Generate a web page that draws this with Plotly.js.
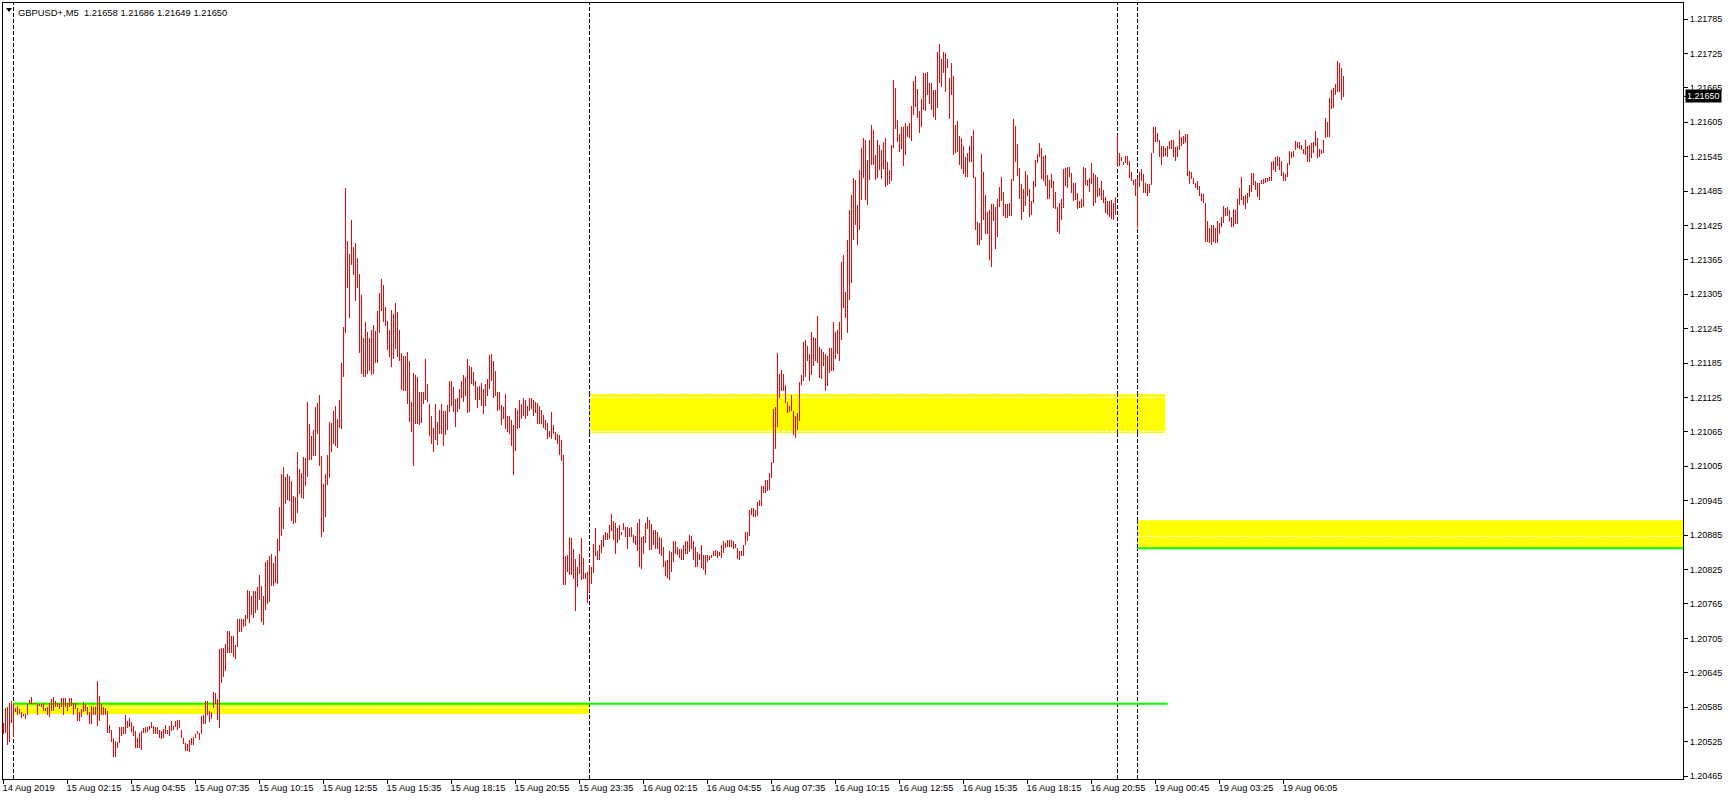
<!DOCTYPE html>
<html>
<head>
<meta charset="utf-8">
<script src="https://cdn.plot.ly/plotly-3.0.1.min.js"></script>
<style>html,body{margin:0;padding:0;background:#fff;}#chart{width:1729px;height:800px;}</style>
</head>
<body>
<div id="chart"></div>
<script>
// ---- data (M5 bars, high / low) ----
const symbol = 'GBPUSD+';
const timeframe = 'M5';
const lastOHLC = [1.21658, 1.21686, 1.21649, 1.21650];

const high = [
1.20557,1.20584,1.20586,1.20593,1.20595,1.20590,1.20583,1.20587,1.20581,1.20576,
1.20574,1.20574,1.20590,1.20598,1.20602,1.20593,1.20593,1.20590,1.20591,1.20590,
1.20592,1.20583,1.20586,1.20593,1.20600,1.20602,1.20596,1.20593,1.20590,1.20601,
1.20601,1.20601,1.20593,1.20601,1.20601,1.20593,1.20593,1.20583,1.20576,1.20581,
1.20594,1.20591,1.20586,1.20576,1.20587,1.20586,1.20586,1.20630,1.20605,1.20590,
1.20586,1.20583,1.20579,1.20554,1.20546,1.20531,1.20526,1.20524,1.20550,1.20550,
1.20550,1.20571,1.20561,1.20567,1.20560,1.20553,1.20543,1.20531,1.20540,1.20543,
1.20548,1.20550,1.20550,1.20553,1.20560,1.20553,1.20550,1.20550,1.20545,1.20543,
1.20547,1.20554,1.20546,1.20553,1.20561,1.20553,1.20561,1.20563,1.20563,1.20545,
1.20531,1.20523,1.20521,1.20528,1.20531,1.20533,1.20539,1.20543,1.20540,1.20570,
1.20572,1.20596,1.20596,1.20579,1.20577,1.20612,1.20610,1.20600,1.20686,1.20689,
1.20689,1.20696,1.20718,1.20718,1.20709,1.20709,1.20693,1.20738,1.20739,1.20738,
1.20738,1.20745,1.20789,1.20787,1.20779,1.20787,1.20787,1.20794,1.20815,1.20796,
1.20779,1.20839,1.20841,1.20848,1.20853,1.20837,1.20848,1.20879,1.20934,1.20991,
1.21004,1.20987,1.20991,1.20988,1.20979,1.20953,1.20951,1.21030,1.21001,1.20994,
1.21021,1.21020,1.21118,1.21078,1.21058,1.21068,1.21109,1.21116,1.21129,1.21023,
1.20974,1.20991,1.21025,1.21082,1.21080,1.21102,1.21111,1.21087,1.21121,1.21185,
1.21248,1.21491,1.21398,1.21376,1.21435,1.21387,1.21395,1.21369,1.21341,1.21303,
1.21228,1.21256,1.21240,1.21228,1.21242,1.21252,1.21241,1.21276,1.21307,1.21331,
1.21321,1.21283,1.21259,1.21242,1.21278,1.21271,1.21290,1.21274,1.21243,1.21202,
1.21197,1.21197,1.21204,1.21188,1.21118,1.21168,1.21164,1.21160,1.21135,1.21135,
1.21135,1.21193,1.21149,1.21113,1.21093,1.21071,1.21113,1.21083,1.21104,1.21113,
1.21102,1.21102,1.21112,1.21154,1.21153,1.21143,1.21122,1.21124,1.21139,1.21154,
1.21164,1.21161,1.21193,1.21180,1.21178,1.21170,1.21154,1.21143,1.21145,1.21150,
1.21139,1.21148,1.21157,1.21199,1.21201,1.21188,1.21172,1.21135,1.21134,1.21112,
1.21108,1.21131,1.21093,1.21092,1.21086,1.21077,1.21106,1.21103,1.21121,1.21114,
1.21124,1.21121,1.21110,1.21124,1.21125,1.21121,1.21118,1.21115,1.21110,1.21103,
1.21095,1.21086,1.21080,1.21067,1.21099,1.21077,1.21064,1.21061,1.21060,1.21051,
1.21025,1.20848,1.20850,1.20882,1.20880,1.20861,1.20843,1.20829,1.20853,1.20880,
1.20846,1.20819,1.20821,1.20833,1.20830,1.20870,1.20898,1.20858,1.20868,1.20877,
1.20885,1.20891,1.20888,1.20903,1.20922,1.20909,1.20906,1.20897,1.20903,1.20891,
1.20907,1.20899,1.20899,1.20897,1.20900,1.20886,1.20884,1.20907,1.20913,1.20882,
1.20884,1.20907,1.20916,1.20912,1.20904,1.20894,1.20894,1.20890,1.20881,1.20880,
1.20864,1.20840,1.20842,1.20857,1.20855,1.20874,1.20875,1.20864,1.20860,1.20860,
1.20868,1.20875,1.20875,1.20885,1.20884,1.20875,1.20865,1.20855,1.20853,1.20868,
1.20850,1.20850,1.20850,1.20849,1.20850,1.20857,1.20859,1.20858,1.20856,1.20868,
1.20874,1.20871,1.20877,1.20877,1.20877,1.20875,1.20870,1.20863,1.20858,1.20857,
1.20868,1.20890,1.20890,1.20929,1.20933,1.20932,1.20929,1.20942,1.20946,1.20971,
1.20971,1.20981,1.20982,1.20994,1.21012,1.21105,1.21108,1.21203,1.21166,1.21173,
1.21166,1.21147,1.21118,1.21110,1.21129,1.21102,1.21093,1.21098,1.21152,1.21164,
1.21221,1.21225,1.21214,1.21201,1.21240,1.21230,1.21228,1.21267,1.21213,1.21210,
1.21205,1.21201,1.21198,1.21211,1.21211,1.21256,1.21240,1.21243,1.21257,1.21361,
1.21374,1.21309,1.21400,1.21452,1.21478,1.21508,1.21504,1.21461,1.21522,1.21560,
1.21577,1.21574,1.21539,1.21574,1.21600,1.21591,1.21548,1.21574,1.21565,1.21556,
1.21570,1.21578,1.21535,1.21522,1.21566,1.21679,1.21665,1.21609,1.21585,1.21596,
1.21597,1.21603,1.21599,1.21603,1.21633,1.21677,1.21686,1.21663,1.21625,1.21646,
1.21690,1.21691,1.21693,1.21674,1.21674,1.21661,1.21661,1.21728,1.21742,1.21715,
1.21728,1.21726,1.21715,1.21682,1.21709,1.21686,1.21600,1.21608,1.21581,1.21577,
1.21564,1.21544,1.21551,1.21564,1.21581,1.21592,1.21510,1.21431,1.21429,1.21550,
1.21518,1.21478,1.21449,1.21452,1.21463,1.21463,1.21458,1.21472,1.21492,1.21510,
1.21483,1.21462,1.21463,1.21464,1.21506,1.21611,1.21599,1.21567,1.21525,1.21498,
1.21488,1.21520,1.21513,1.21488,1.21468,1.21503,1.21539,1.21550,1.21568,1.21560,
1.21546,1.21548,1.21513,1.21504,1.21514,1.21503,1.21484,1.21458,1.21464,1.21471,
1.21523,1.21525,1.21527,1.21527,1.21517,1.21499,1.21499,1.21481,1.21467,1.21472,
1.21527,1.21525,1.21504,1.21507,1.21534,1.21516,1.21513,1.21509,1.21490,1.21503,
1.21487,1.21475,1.21467,1.21467,1.21470,1.21464,1.21475,1.21583,1.21551,1.21545,
1.21535,1.21546,1.21546,1.21538,1.21519,1.21504,1.21506,1.21510,1.21519,1.21523,
1.21515,1.21499,1.21498,1.21498,1.21552,1.21597,1.21597,1.21586,1.21574,1.21564,
1.21563,1.21560,1.21563,1.21573,1.21574,1.21574,1.21561,1.21564,1.21592,1.21579,
1.21581,1.21585,1.21585,1.21520,1.21519,1.21507,1.21499,1.21503,1.21493,1.21482,
1.21480,1.21464,1.21432,1.21420,1.21426,1.21426,1.21420,1.21432,1.21430,1.21439,
1.21459,1.21456,1.21457,1.21452,1.21439,1.21454,1.21452,1.21471,1.21491,1.21510,
1.21477,1.21478,1.21481,1.21496,1.21516,1.21516,1.21502,1.21499,1.21499,1.21504,
1.21506,1.21507,1.21507,1.21509,1.21535,1.21538,1.21544,1.21546,1.21545,1.21538,
1.21519,1.21514,1.21534,1.21554,1.21553,1.21554,1.21572,1.21571,1.21571,1.21566,
1.21558,1.21574,1.21563,1.21566,1.21568,1.21571,1.21589,1.21577,1.21558,1.21556,
1.21574,1.21612,1.21606,1.21647,1.21661,1.21664,1.21672,1.21712,1.21709,1.21700,1.21686
];

const low = [
1.20538,1.20540,1.20519,1.20524,1.20557,1.20533,1.20576,1.20571,1.20574,1.20567,
1.20569,1.20565,1.20572,1.20591,1.20590,1.20590,1.20590,1.20571,1.20587,1.20586,
1.20578,1.20579,1.20572,1.20568,1.20579,1.20579,1.20586,1.20586,1.20581,1.20586,
1.20571,1.20586,1.20579,1.20586,1.20587,1.20572,1.20581,1.20561,1.20561,1.20568,
1.20576,1.20578,1.20572,1.20555,1.20555,1.20571,1.20571,1.20553,1.20561,1.20571,
1.20571,1.20571,1.20540,1.20540,1.20524,1.20498,1.20498,1.20513,1.20522,1.20535,
1.20538,1.20538,1.20548,1.20550,1.20541,1.20535,1.20514,1.20514,1.20513,1.20510,
1.20540,1.20540,1.20541,1.20545,1.20548,1.20539,1.20538,1.20539,1.20531,1.20529,
1.20531,1.20538,1.20538,1.20535,1.20543,1.20546,1.20550,1.20545,1.20548,1.20531,
1.20521,1.20509,1.20509,1.20507,1.20519,1.20519,1.20531,1.20538,1.20528,1.20539,
1.20555,1.20555,1.20572,1.20559,1.20565,1.20583,1.20590,1.20562,1.20548,1.20627,
1.20638,1.20648,1.20679,1.20679,1.20679,1.20672,1.20669,1.20690,1.20716,1.20716,
1.20724,1.20727,1.20738,1.20731,1.20745,1.20741,1.20750,1.20755,1.20772,1.20734,
1.20729,1.20755,1.20765,1.20769,1.20796,1.20796,1.20801,1.20800,1.20858,1.20884,
1.20896,1.20939,1.20946,1.20944,1.20909,1.20905,1.20906,1.20924,1.20957,1.20950,
1.20948,1.20970,1.20987,1.21016,1.21016,1.21023,1.21023,1.21061,1.21006,1.20882,
1.20891,1.20917,1.20972,1.20985,1.21030,1.21044,1.21041,1.21037,1.21072,1.21070,
1.21160,1.21237,1.21316,1.21264,1.21356,1.21338,1.21294,1.21316,1.21202,1.21166,
1.21161,1.21161,1.21166,1.21171,1.21164,1.21166,1.21185,1.21185,1.21237,1.21276,
1.21256,1.21249,1.21208,1.21195,1.21178,1.21192,1.21209,1.21195,1.21188,1.21138,
1.21136,1.21136,1.21113,1.21082,1.21065,1.21006,1.21078,1.21078,1.21077,1.21080,
1.21113,1.21120,1.21118,1.21058,1.21044,1.21030,1.21051,1.21042,1.21061,1.21061,
1.21041,1.21060,1.21068,1.21100,1.21110,1.21100,1.21073,1.21099,1.21105,1.21125,
1.21118,1.21127,1.21098,1.21099,1.21148,1.21145,1.21120,1.21106,1.21120,1.21111,
1.21096,1.21111,1.21128,1.21139,1.21154,1.21124,1.21128,1.21102,1.21104,1.21077,
1.21087,1.21070,1.21064,1.21061,1.21041,1.20990,1.21031,1.21070,1.21071,1.21088,
1.21093,1.21087,1.21093,1.21102,1.21105,1.21092,1.21098,1.21079,1.21079,1.21078,
1.21071,1.21068,1.21052,1.21056,1.21052,1.21061,1.21051,1.21044,1.21024,1.21015,
1.20798,1.20798,1.20820,1.20816,1.20815,1.20809,1.20752,1.20795,1.20818,1.20806,
1.20809,1.20808,1.20767,1.20786,1.20800,1.20819,1.20848,1.20842,1.20842,1.20854,
1.20865,1.20877,1.20877,1.20878,1.20893,1.20877,1.20853,1.20871,1.20877,1.20885,
1.20894,1.20882,1.20860,1.20881,1.20882,1.20871,1.20868,1.20858,1.20829,1.20826,
1.20853,1.20871,1.20895,1.20859,1.20859,1.20868,1.20860,1.20860,1.20853,1.20848,
1.20829,1.20814,1.20810,1.20806,1.20820,1.20839,1.20853,1.20850,1.20846,1.20841,
1.20841,1.20852,1.20853,1.20856,1.20860,1.20842,1.20830,1.20829,1.20842,1.20827,
1.20824,1.20816,1.20839,1.20842,1.20845,1.20848,1.20849,1.20846,1.20848,1.20846,
1.20854,1.20862,1.20865,1.20865,1.20865,1.20860,1.20862,1.20844,1.20842,1.20848,
1.20849,1.20867,1.20875,1.20884,1.20920,1.20916,1.20916,1.20919,1.20935,1.20936,
1.20958,1.20958,1.20962,1.20964,1.20984,1.21011,1.21035,1.21073,1.21125,1.21137,
1.21137,1.21116,1.21098,1.21099,1.21102,1.21059,1.21055,1.21068,1.21084,1.21147,
1.21154,1.21160,1.21188,1.21154,1.21164,1.21180,1.21188,1.21186,1.21159,1.21157,
1.21180,1.21137,1.21145,1.21167,1.21172,1.21172,1.21193,1.21201,1.21188,1.21225,
1.21281,1.21264,1.21238,1.21295,1.21325,1.21400,1.21426,1.21391,1.21417,1.21469,
1.21508,1.21469,1.21461,1.21504,1.21530,1.21530,1.21504,1.21508,1.21522,1.21506,
1.21523,1.21492,1.21496,1.21498,1.21503,1.21560,1.21593,1.21571,1.21553,1.21558,
1.21528,1.21548,1.21580,1.21577,1.21573,1.21618,1.21632,1.21612,1.21587,1.21597,
1.21627,1.21624,1.21653,1.21637,1.21627,1.21615,1.21609,1.21630,1.21673,1.21667,
1.21691,1.21657,1.21700,1.21611,1.21652,1.21548,1.21552,1.21553,1.21531,1.21523,
1.21515,1.21509,1.21510,1.21536,1.21536,1.21508,1.21417,1.21391,1.21391,1.21400,
1.21435,1.21410,1.21410,1.21364,1.21353,1.21432,1.21384,1.21405,1.21457,1.21468,
1.21442,1.21438,1.21438,1.21441,1.21442,1.21502,1.21536,1.21511,1.21472,1.21435,
1.21449,1.21459,1.21477,1.21439,1.21443,1.21465,1.21492,1.21534,1.21544,1.21506,
1.21502,1.21494,1.21471,1.21472,1.21490,1.21455,1.21453,1.21414,1.21410,1.21435,
1.21455,1.21493,1.21490,1.21510,1.21482,1.21468,1.21470,1.21454,1.21455,1.21455,
1.21457,1.21496,1.21493,1.21484,1.21497,1.21459,1.21465,1.21475,1.21477,1.21470,
1.21464,1.21446,1.21443,1.21439,1.21437,1.21435,1.21443,1.21527,1.21529,1.21538,
1.21531,1.21534,1.21531,1.21508,1.21502,1.21496,1.21477,1.21421,1.21492,1.21502,
1.21482,1.21482,1.21477,1.21481,1.21495,1.21551,1.21571,1.21571,1.21545,1.21531,
1.21544,1.21546,1.21545,1.21558,1.21558,1.21544,1.21538,1.21544,1.21556,1.21564,
1.21567,1.21568,1.21512,1.21498,1.21506,1.21498,1.21490,1.21487,1.21477,1.21468,
1.21464,1.21397,1.21396,1.21394,1.21391,1.21396,1.21394,1.21394,1.21410,1.21422,
1.21430,1.21441,1.21441,1.21432,1.21422,1.21423,1.21428,1.21427,1.21461,1.21470,
1.21460,1.21454,1.21465,1.21475,1.21484,1.21496,1.21487,1.21475,1.21470,1.21498,
1.21498,1.21499,1.21500,1.21502,1.21503,1.21522,1.21519,1.21529,1.21522,1.21511,
1.21503,1.21503,1.21510,1.21531,1.21542,1.21545,1.21557,1.21560,1.21558,1.21557,
1.21549,1.21548,1.21536,1.21536,1.21542,1.21551,1.21564,1.21542,1.21545,1.21550,
1.21551,1.21577,1.21580,1.21580,1.21628,1.21630,1.21653,1.21658,1.21658,1.21644,1.21649
];

// x-axis time labels (every 32 bars) and price ticks
const xTickBars = [0,32,64,96,128,160,192,224,256,288,320,352,384,416,448,480,512,544,576,608,640];
const xTickText = ['14 Aug 2019','15 Aug 02:15','15 Aug 04:55','15 Aug 07:35','15 Aug 10:15','15 Aug 12:55',
  '15 Aug 15:35','15 Aug 18:15','15 Aug 20:55','15 Aug 23:35','16 Aug 02:15','16 Aug 04:55','16 Aug 07:35',
  '16 Aug 10:15','16 Aug 12:55','16 Aug 15:35','16 Aug 18:15','16 Aug 20:55','19 Aug 00:45','19 Aug 03:25','19 Aug 06:05'];
const yTicks = [1.20465,1.20525,1.20585,1.20645,1.20705,1.20765,1.20825,1.20885,1.20945,1.21005,1.21065,
  1.21125,1.21185,1.21245,1.21305,1.21365,1.21425,1.21485,1.21545,1.21605,1.21665,1.21725,1.21785];

// day separators (bar index)
const separators = [5, 293, 557, 567];

// zones (yellow rectangles): start bar, end bar, low price, high price
const zoneStart = [5, 293, 567];
const zoneEnd   = [293, 581, 840];
const zoneLow   = [1.20573, 1.21063, 1.20863];
const zoneHigh  = [1.20593, 1.21131, 1.20911];
// white dashed levels inside zones
const dashLevel = [1.20584, 1.21125, 1.21066, 1.20883];
const dashZone  = [0, 1, 1, 2];
// green support lines
const greenLevel = [1.20591, 1.20862];
const greenStart = [5, 567];
const greenEnd   = [582, 840];

// ---- build ----
const idx = high.map((_, i) => i);
const trace = {
  type: 'bar', x: idx, base: low,
  y: high.map((h, i) => Math.max(h - low[i], 0.00001)),
  width: 0.5,
  marker: { color: '#ff0000', line: { width: 0 } },
  hoverinfo: 'skip'
};

const XMIN = -0.25, XMAX = 839.75;
const shapes = [];
for (let z = 0; z < zoneStart.length; z++) {
  shapes.push({ type: 'rect', layer: 'below', xref: 'x', yref: 'y',
    x0: zoneStart[z] - 0.25, x1: Math.min(zoneEnd[z] - 0.25, XMAX),
    y0: zoneLow[z], y1: zoneHigh[z], fillcolor: '#ffff00', line: { width: 0 } });
}
for (let k = 0; k < dashLevel.length; k++) {
  const z = dashZone[k];
  shapes.push({ type: 'line', layer: 'below', xref: 'x', yref: 'y',
    x0: zoneStart[z] - 0.25, x1: Math.min(zoneEnd[z] - 0.25, XMAX), y0: dashLevel[k], y1: dashLevel[k],
    line: { color: '#ffffff', width: 1, dash: '4px,2px' } });
}
for (let k = 0; k < greenLevel.length; k++) {
  shapes.push({ type: 'line', layer: 'below', xref: 'x', yref: 'y',
    x0: greenStart[k] - 0.25, x1: Math.min(greenEnd[k], XMAX), y0: greenLevel[k], y1: greenLevel[k],
    line: { color: '#00ff00', width: 2 } });
}
separators.forEach(s => {
  shapes.push({ type: 'line', layer: 'below', xref: 'x', yref: 'paper',
    x0: s, x1: s, y0: 0, y1: 1, line: { color: '#000000', width: 1, dash: '4px,2px' } });
  for (let z = 0; z < zoneStart.length; z++) {
    if (s >= zoneStart[z] && s < zoneEnd[z]) {
      shapes.push({ type: 'line', layer: 'below', xref: 'x', yref: 'y',
        x0: s, x1: s, y0: zoneLow[z], y1: zoneHigh[z], line: { color: '#0000ff', width: 1, dash: '4px,2px' } });
    }
  }
});
// current price tick on the axis
const cur = lastOHLC[3];
shapes.push({ type: 'line', xref: 'paper', yref: 'y', x0: 1, x1: 1 + 4 / 1680, y0: cur, y1: cur,
  line: { color: '#000', width: 1 } });
// small menu triangle at top-left
shapes.push({ type: 'path', xref: 'paper', yref: 'paper',
  path: 'M ' + (3/1680) + ' ' + (1 - 5/776) + ' L ' + (9/1680) + ' ' + (1 - 5/776) + ' L ' + (6/1680) + ' ' + (1 - 9/776) + ' Z',
  fillcolor: '#000', line: { width: 0 } });

const fmt = v => v.toFixed(5);
const annotations = [
  { xref: 'paper', yref: 'paper', x: 0, y: 1, xanchor: 'left', yanchor: 'top', xshift: 13, yshift: -2,
    showarrow: false, align: 'left',
    text: symbol + ',' + timeframe + '\u00a0\u00a0' + lastOHLC.map(fmt).join(' '),
    font: { family: 'Liberation Sans, Arial, sans-serif', size: 9.4, color: '#000' } },
  { xref: 'paper', yref: 'y', x: 1, y: cur, xanchor: 'left', yanchor: 'middle', xshift: 2,
    showarrow: false, text: fmt(cur), bgcolor: '#000000', borderpad: 1,
    font: { family: 'Liberation Sans, Arial, sans-serif', size: 9, color: '#ffffff' } }
];

const layout = {
  width: 1729, height: 800,
  margin: { l: 3, r: 46, t: 3, b: 21, pad: 0 },
  paper_bgcolor: '#ffffff', plot_bgcolor: '#ffffff',
  showlegend: false, hovermode: false, bargap: 0,
  font: { family: 'Liberation Sans, Arial, sans-serif', size: 9, color: '#000' },
  xaxis: {
    type: 'linear', range: [XMIN, XMAX], showgrid: false, zeroline: false,
    showline: true, mirror: true, linecolor: '#000', linewidth: 1,
    ticks: 'outside', ticklen: 4, tickcolor: '#000', tickwidth: 1,
    tickmode: 'array', tickvals: xTickBars, ticktext: xTickText,
    ticklabelposition: 'outside right', ticklabelshift: -2,
    tickfont: { family: 'Liberation Sans, Arial, sans-serif', size: 9.3, color: '#000' },
    automargin: false, fixedrange: true
  },
  yaxis: {
    range: [1.204598, 1.218129], side: 'right', showgrid: false, zeroline: false,
    showline: true, mirror: true, linecolor: '#000', linewidth: 1,
    ticks: 'outside', ticklen: 4, tickcolor: '#000', tickwidth: 1,
    tickmode: 'array', tickvals: yTicks, ticktext: yTicks.map(fmt),
    automargin: false, fixedrange: true
  },
  shapes: shapes,
  annotations: annotations
};

Plotly.newPlot('chart', [trace], layout, { staticPlot: true, displayModeBar: false });
</script>
</body>
</html>
